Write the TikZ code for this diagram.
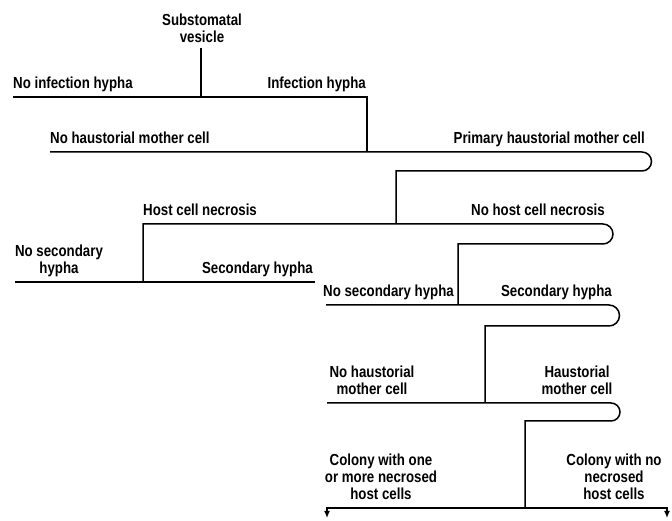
\documentclass[tikz,border=0pt]{standalone}
\usepackage{fontspec}
\newfontfamily\condfont[FakeStretch=0.83]{Liberation Sans}
\usetikzlibrary{arrows.meta}
\tikzset{
  >={Latex[length=7pt,width=6pt]},
  branch/.style ={line width=1.5pt},
  outcome/.style={font=\condfont\bfseries\fontsize{16}{17}\selectfont,
                  inner sep=0pt, align=center},
}

\begin{document}
\begin{tikzpicture}[x=1pt,y=1pt]
  \useasboundingbox (0,0) rectangle (672,521);

  % start
  \node[outcome, anchor=base] (ves) at (202,478) {Substomatal\\vesicle};
  \coordinate (vesfoot) at (201,473);

  % infection hypha
  \coordinate (ihw) at (13,424);
  \coordinate (ihj) at (201,424);
  \coordinate (ihe) at (367,424);
  \node[outcome, anchor=base west] (noih) at (13,432) {No infection hypha};
  \node[outcome, anchor=base east] (ih) at (366,432) {Infection hypha};
  \draw[branch] (vesfoot) -- (ihj);
  \draw[branch] (ihw) -- (ihe) -- (367,369);

  % primary haustorial mother cell
  \coordinate (hmw) at (50,369);
  \coordinate (hmt) at (642,369);
  \coordinate (hmb) at (396,350);
  \coordinate (hnj) at (396,297);
  \node[outcome, anchor=base west] (nohm) at (50,377) {No haustorial mother cell};
  \node[outcome, anchor=base east] (hm) at (645,377) {Primary haustorial mother cell};
  \draw[branch] (hmw) -- (hmt) arc[start angle=90, end angle=-90, radius=9.5pt]
    -- (hmb) -- (hnj);

  % host cell necrosis
  \coordinate (hnw) at (143,297);
  \coordinate (hnt) at (603,297);
  \coordinate (hnb) at (458,277);
  \coordinate (shj) at (458,216);
  \node[outcome, anchor=base west] (hn) at (143,305) {Host cell necrosis};
  \node[outcome, anchor=base east] (nohn) at (605,305) {No host cell necrosis};
  \draw[branch] (143,239) -- (hnw) -- (hnt)
    arc[start angle=90, end angle=-90, radius=10pt] -- (hnb) -- (shj);

  % secondary hypha after necrosis
  \node[outcome, anchor=base] (nosh1) at (59,247) {No secondary\\hypha};
  \node[outcome, anchor=base east] (sh1) at (313,247) {Secondary hypha};
  \draw[branch] (15,239) -- (315,239);

  % secondary hypha without necrosis
  \coordinate (shw) at (326,216);
  \coordinate (sht) at (609,216);
  \coordinate (shb) at (485,195);
  \coordinate (hcj) at (485,118);
  \node[outcome, anchor=base west] (nosh2) at (323,224) {No secondary hypha};
  \node[outcome, anchor=base east] (sh2) at (612,224) {Secondary hypha};
  \draw[branch] (shw) -- (sht) arc[start angle=90, end angle=-90, radius=10.5pt]
    -- (shb) -- (hcj);

  % haustorial mother cell
  \coordinate (hcw) at (327,118);
  \coordinate (hct) at (611,118);
  \coordinate (hcb) at (525,100);
  \coordinate (colj) at (525,13);
  \node[outcome, anchor=base] (nohc) at (372,126) {No haustorial\\mother cell};
  \node[outcome, anchor=base] (hc) at (577,126) {Haustorial\\mother cell};
  \draw[branch] (hcw) -- (hct) arc[start angle=90, end angle=-90, radius=9pt]
    -- (hcb) -- (colj);

  % colonies
  \node[outcome, anchor=base] (colnec) at (381,21) {Colony with one\\or more necrosed\\host cells};
  \node[outcome, anchor=base] (colnon) at (614,21) {Colony with no\\necrosed\\host cells};
  \draw[branch,<->] (327,3) -- (327,13) -- (667,13) -- (667,3);
\end{tikzpicture}
\end{document}
